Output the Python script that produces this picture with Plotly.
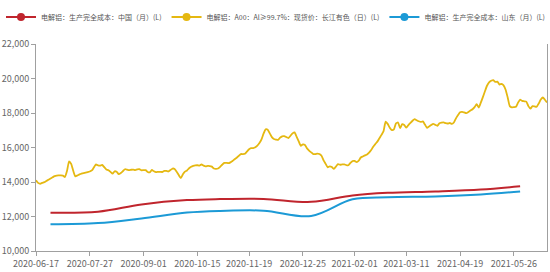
import pandas as pd
import plotly.graph_objects as go

# ---------------- data ----------------
holidays = ["2020-06-25", "2020-06-26", "2020-10-01", "2020-10-02", "2020-10-05",
            "2020-10-06", "2020-10-07", "2020-10-08", "2021-01-01", "2021-02-11",
            "2021-02-12", "2021-02-15", "2021-02-16", "2021-02-17", "2021-04-05",
            "2021-05-03", "2021-05-04", "2021-05-05", "2021-06-14"]
makeup_days = ["2021-02-07", "2021-02-20", "2021-04-25", "2021-05-08"]

days = pd.bdate_range("2020-06-17", "2021-06-18")
days = days[~days.isin(pd.to_datetime(holidays))]
days = days.union(pd.to_datetime(makeup_days)).sort_values()
dates = [d.strftime("%Y-%m-%d") for d in days]

spot_price = [
    14095, 13950, 13900, 13950, 13990, 14060, 14130, 14200, 14270, 14340,
    14375, 14380, 14385, 14370, 14290, 14650, 15200, 15050, 14650, 14330,
    14380, 14440, 14490, 14520, 14540, 14570, 14610, 14670, 14850, 15020,
    14960, 14950, 14990, 14860, 14730, 14680, 14590, 14480, 14620, 14590,
    14460, 14520, 14630, 14740, 14720, 14690, 14710, 14720, 14690, 14730,
    14740, 14680, 14690, 14690, 14580, 14560, 14700, 14620, 14570, 14590,
    14590, 14580, 14640, 14640, 14610, 14690, 14780, 14755, 14600, 14400,
    14230, 14450, 14600, 14670, 14800, 14880, 14930, 14960, 14970, 14945,
    15020, 14950, 14905, 14930, 14925, 14890, 14780, 14760, 14785, 14880,
    15000, 15110, 15110, 15090, 15140, 15220, 15320, 15410, 15510, 15620,
    15620, 15640, 15770, 15895, 15960, 15970, 16020, 16110, 16260, 16470,
    16800, 17050, 17030, 16820, 16600, 16490, 16460, 16440, 16570, 16650,
    16660, 16600, 16550, 16680, 16820, 16880, 16610, 16350, 16100, 16180,
    16150, 15950, 15820, 15720, 15620, 15620, 15650, 15620, 15520, 15250,
    15050, 14850, 14910, 14870, 14760, 14900, 15030, 15000, 15020, 15020,
    14980, 14970, 15110, 15210, 15220, 15150, 15240, 15420, 15480, 15540,
    15590, 15700, 15850, 16050, 16200, 16340, 16540, 16730, 16950, 17500,
    17370, 17150, 17010, 17050, 17400, 17450, 17120, 17350, 17300, 17150,
    17300, 17430, 17550, 17650, 17580, 17520, 17480, 17510, 17330, 17140,
    17220, 17300, 17375, 17310, 17260, 17400, 17440, 17460, 17410, 17390,
    17420, 17370, 17450, 17690, 17880, 18045, 18070, 18030, 17990, 18060,
    18140, 18220, 18340, 18510, 18320, 18600, 18920, 19260, 19580, 19780,
    19870, 19910, 19800, 19820, 19650, 19690, 19600, 19350, 18900, 18400,
    18330, 18340, 18360, 18600, 18780, 18700, 18680, 18660, 18400, 18250,
    18400, 18380, 18360, 18550, 18780, 18900, 18770, 18610,
]

month_dates = ["2020-06-30", "2020-07-31", "2020-08-31", "2020-09-30", "2020-10-30",
               "2020-11-30", "2020-12-31", "2021-01-29", "2021-02-26", "2021-03-31",
               "2021-04-30", "2021-05-31"]
cost_china = [12220, 12280, 12700, 12950, 13010, 13020, 12850, 13220, 13370, 13450, 13560, 13750]
cost_shandong = [11550, 11620, 11890, 12225, 12320, 12340, 12030, 12995, 13110, 13165, 13280, 13450]

tick_dates = ["2020-06-17", "2020-07-27", "2020-09-01", "2020-10-15", "2020-11-19",
              "2020-12-25", "2021-02-01", "2021-03-11", "2021-04-19", "2021-05-26"]
y_ticks = [10000, 12000, 14000, 16000, 18000, 20000, 22000]

names = ["电解铝：生产完全成本：中国（月）(L)",
         "电解铝：A00：Al≥99.7%：现货价：长江有色（日）(L)",
         "电解铝：生产完全成本：山东（月）(L)"]
colors = ["#C0252D", "#E5B811", "#1C9AD6"]

# ---------------- figure ----------------
n = min(len(dates), len(spot_price))
fig = go.Figure()
fig.add_trace(go.Scatter(x=dates[:n], y=spot_price[:n], mode="lines",
                         line=dict(color=colors[1], width=1.8, shape="spline", smoothing=0.5),
                         showlegend=False, hoverinfo="x+y"))
fig.add_trace(go.Scatter(x=month_dates, y=cost_china, mode="lines",
                         line=dict(color=colors[0], width=2, shape="spline", smoothing=1.0),
                         showlegend=False))
fig.add_trace(go.Scatter(x=month_dates, y=cost_shandong, mode="lines",
                         line=dict(color=colors[2], width=2, shape="spline", smoothing=1.0),
                         showlegend=False))

# legend entries
for nm, c in zip(names, colors):
    fig.add_trace(go.Scatter(x=[None], y=[None], mode="lines+markers", name=nm,
                             line=dict(color=c, width=2),
                             marker=dict(color=c, size=8, symbol="circle")))

font_family = "Noto Sans CJK SC, Noto Sans, sans-serif"
fig.update_layout(
    width=550, height=272,
    margin=dict(l=33, r=2, t=43, b=16),
    paper_bgcolor="white", plot_bgcolor="white",
    font=dict(family=font_family, size=9, color="#666666"),
    showlegend=True,
    legend=dict(orientation="h", x=-0.037, xanchor="left", y=1.13, yanchor="middle",
                font=dict(size=7, color="#555555"), itemwidth=30,
                bgcolor="rgba(0,0,0,0)", tracegroupgap=0),
    hovermode="x",
)
fig.update_xaxes(type="category", categoryorder="array", categoryarray=dates[:n],
                 range=[0, n - 1],
                 tickmode="array", tickvals=tick_dates, ticktext=tick_dates,
                 tickangle=0,
                 showline=True, linecolor="#A0A0A0", linewidth=1,
                 ticks="outside", ticklen=4, tickcolor="#A0A0A0",
                 showgrid=False, zeroline=False,
                 tickfont=dict(size=9, color="#666666"))
fig.update_yaxes(range=[10000, 22000], tickmode="array", tickvals=y_ticks,
                 tickformat=",d",
                 showline=True, mirror=True, linecolor="#A0A0A0", linewidth=1,
                 ticks="outside", ticklen=4, tickcolor="#A0A0A0",
                 showgrid=False, zeroline=False,
                 tickfont=dict(size=9, color="#666666"))

fig.write_html("out.html")
